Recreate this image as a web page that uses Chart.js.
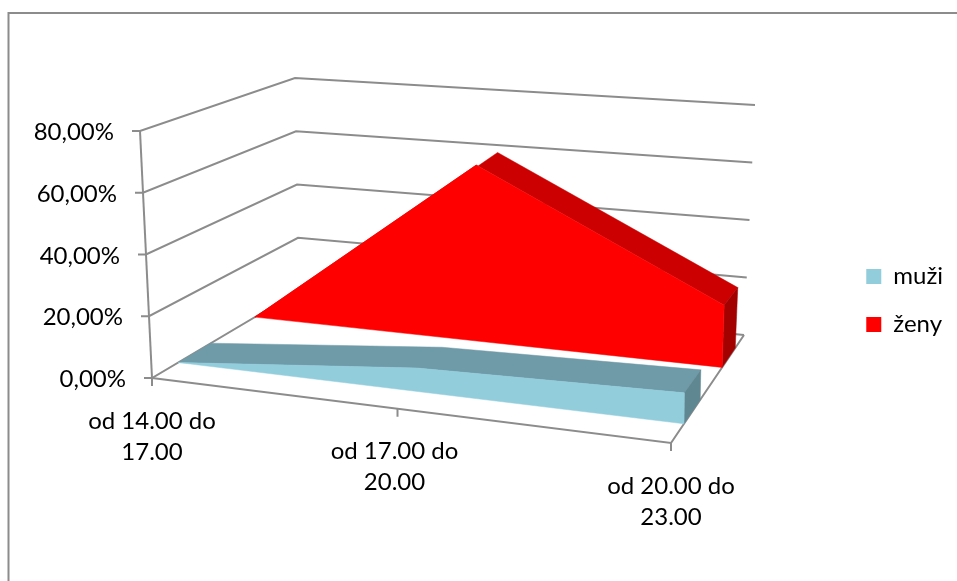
<!DOCTYPE html>
<html>
<head>
<meta charset="utf-8">
<title>muži a ženy</title>
<script src="https://cdn.jsdelivr.net/npm/chart.js@4"></script>
<style>
  body { margin: 0; background: #fff; }
  canvas { display: block; }
</style>
</head>
<body>
<canvas id="chart" width="957" height="581"></canvas>
<script>
// Chart data
const categories = [["od 14.00 do", "17.00"], ["od 17.00 do", "20.00"], ["od 20.00 do", "23.00"]];
const muzi = [0, 7.5, 9.5];
const zeny = [0, 60.7, 20.6];
const yTickLabels = ["0,00%", "20,00%", "40,00%", "60,00%", "80,00%"];

// 3D box corners on screen: front/back, left/right, floor/top
const box = {
  fl0: [152, 378], fl1: [140, 131],
  fr0: [671, 443], fr1: [672, 176],
  bl0: [299, 291], bl1: [295, 78],
  br0: [744, 335], br1: [755, 105],
};
const centerWarp = 1.114; // perspective squeeze along the category axis
const xLabelShift = [0, -3, 0];
const gridColor = "#8c8c8c";
const fontFamily = "Lato, 'Open Sans', sans-serif";

// Depth band and shades of each series, index matches datasets
const seriesStyles = [
  { front: 0.178, back: 0.4, face: "#92cddc", top: "#6f9aa8", side: "#5f8792" },
  { front: 0.7, back: 0.88, face: "#ff0000", top: "#cc0000", side: "#a30000" },
];

function lerp(a, b, t) {
  return [a[0] + (b[0] - a[0]) * t, a[1] + (b[1] - a[1]) * t];
}

// u: along categories, d: depth, v: height, all 0..1
function project(u, d, v) {
  const w = u / (u + (1 - u) * centerWarp);
  const floor = lerp(
    lerp(box.fl0, box.fr0, w),
    lerp(box.bl0, box.br0, w),
    d
  );
  const top = lerp(
    lerp(box.fl1, box.fr1, w),
    lerp(box.bl1, box.br1, w),
    d
  );
  return lerp(floor, top, v);
}

function strokePath(ctx, points) {
  ctx.beginPath();
  points.forEach((p, i) => (i ? ctx.lineTo(p[0], p[1]) : ctx.moveTo(p[0], p[1])));
  ctx.stroke();
}

function fillPath(ctx, points, color) {
  ctx.fillStyle = color;
  ctx.strokeStyle = color;
  ctx.lineWidth = 0.5;
  ctx.beginPath();
  points.forEach((p, i) => (i ? ctx.lineTo(p[0], p[1]) : ctx.moveTo(p[0], p[1])));
  ctx.closePath();
  ctx.fill();
  ctx.stroke();
}

// Walls, floor, axes and tick labels, taken from the chart's own scales
function drawFrame(chart, ctx) {
  const { x, y } = chart.scales;
  ctx.strokeStyle = gridColor;
  ctx.lineWidth = 2;

  // Chart border, open at the right and bottom
  strokePath(ctx, [[8.5, 581], [8.5, 13], [957, 13]]);

  y.ticks.forEach((tick) => {
    const v = (tick.value - y.min) / (y.max - y.min);
    const a = project(0, 0, v);
    const b = project(0, 1, v);
    const c = project(1, 1, v);
    strokePath(ctx, [[a[0] - 8, a[1]], a, b, c]);
  });
  strokePath(ctx, [project(0, 0, 0), project(0, 0, 1)]);
  strokePath(ctx, [project(1, 1, 0), project(1, 0, 0), project(0, 0, 0)]);

  x.ticks.forEach((tick, i) => {
    const u = i / (x.ticks.length - 1);
    const p = project(u, 0, 0);
    strokePath(ctx, [p, [p[0], p[1] + 8]]);
  });

  ctx.fillStyle = "#000";
  ctx.font = `24px ${fontFamily}`;
  ctx.textBaseline = "middle";
  ctx.textAlign = "right";
  y.ticks.forEach((tick) => {
    const p = project(0, 0, (tick.value - y.min) / (y.max - y.min));
    ctx.fillText(tick.label, p[0] - 26, p[1] + 1.5);
  });

  ctx.textAlign = "center";
  x.ticks.forEach((tick, i) => {
    const p = project(i / (x.ticks.length - 1), 0, 0);
    tick.label.forEach((line, j) => {
      ctx.fillText(line, p[0] + xLabelShift[i], p[1] + 43 + j * 31);
    });
  });
}

// One area series as an extruded band
function drawSeries(chart, ctx, index) {
  const { chartArea } = chart;
  const style = seriesStyles[index];
  const pts = chart.getDatasetMeta(index).data.map((el) => ({
    u: (el.x - chartArea.left) / chartArea.width,
    v: (chartArea.bottom - el.y) / chartArea.height,
  }));
  const last = pts[pts.length - 1];

  // Top surface as one polygon, so the bend shows no seam
  const frontEdge = pts.map((p) => project(p.u, style.front, p.v));
  const backEdge = pts.map((p) => project(p.u, style.back, p.v)).reverse();
  fillPath(ctx, frontEdge.concat(backEdge), style.top);

  fillPath(ctx, [
    project(last.u, style.front, 0),
    project(last.u, style.front, last.v),
    project(last.u, style.back, last.v),
    project(last.u, style.back, 0),
  ], style.side);

  const face = frontEdge.slice();
  face.push(project(last.u, style.front, 0), project(pts[0].u, style.front, 0));
  fillPath(ctx, face, style.face);
}

const perspectivePlugin = {
  id: "perspective",
  afterDatasetsDraw(chart) {
    const ctx = chart.ctx;
    ctx.save();
    drawFrame(chart, ctx);
    // Back series first so the front one covers it
    for (let i = seriesStyles.length - 1; i >= 0; i--) {
      drawSeries(chart, ctx, i);
    }
    ctx.restore();
  },
};

new Chart(document.getElementById("chart"), {
  type: "line",
  data: {
    labels: categories,
    datasets: [
      { label: "muži", data: muzi, backgroundColor: seriesStyles[0].face, showLine: false, pointRadius: 0, borderWidth: 0 },
      { label: "ženy", data: zeny, backgroundColor: seriesStyles[1].face, showLine: false, pointRadius: 0, borderWidth: 0 },
    ],
  },
  options: {
    responsive: false,
    animation: false,
    layout: { padding: { top: 20, right: 4 } },
    scales: {
      x: { display: false, offset: false, ticks: { autoSkip: false } },
      y: {
        display: false,
        min: 0,
        max: 80,
        ticks: { stepSize: 20, callback: (value, i) => yTickLabels[i] },
      },
    },
    plugins: {
      tooltip: { enabled: false },
      legend: {
        position: "right",
        labels: {
          boxWidth: 15,
          boxHeight: 15,
          padding: 24,
          color: "#000",
          font: { family: fontFamily, size: 24 },
        },
      },
    },
  },
  plugins: [perspectivePlugin],
});
</script>
</body>
</html>
